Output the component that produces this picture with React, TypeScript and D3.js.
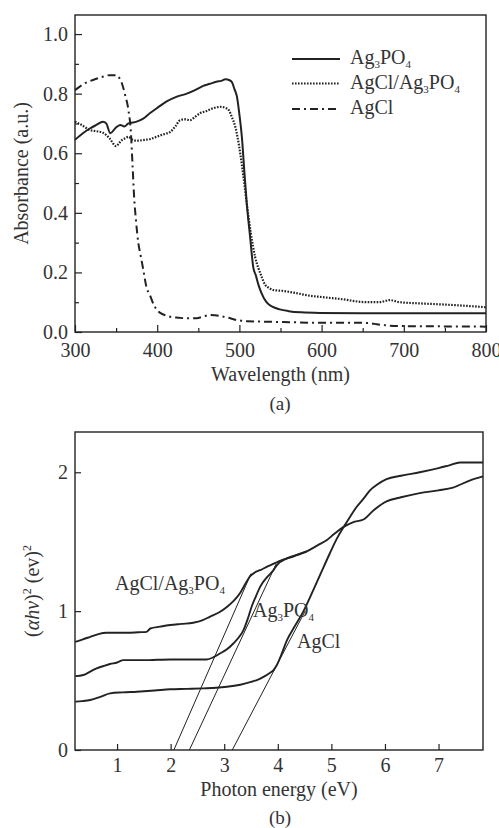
import React, { useEffect, useRef } from "react";
import * as d3 from "d3";

// ---- (a) UV-vis absorbance, [wavelength nm, absorbance]
const ag3po4Abs: [number, number][] = [
  [300, 0.645], [310, 0.668], [318, 0.683], [326, 0.695], [334, 0.706], [338, 0.7],
  [343, 0.667], [349, 0.684], [355, 0.695], [360, 0.69], [365, 0.7], [375, 0.706],
  [383, 0.716], [391, 0.734], [401, 0.754], [411, 0.773], [424, 0.79], [436, 0.8],
  [446, 0.812], [456, 0.826], [464, 0.833], [472, 0.84], [478, 0.843], [483, 0.848],
  [488, 0.845], [491, 0.838], [494, 0.815], [497, 0.79], [500, 0.73], [503, 0.655],
  [506, 0.54], [509, 0.43], [513, 0.32], [517, 0.215], [520, 0.19], [523, 0.16],
  [527, 0.13], [533, 0.1], [540, 0.085], [549, 0.076], [560, 0.07], [575, 0.066],
  [598, 0.064], [650, 0.063], [700, 0.063], [750, 0.063], [800, 0.063],
];
const compositeAbs: [number, number][] = [
  [300, 0.706], [308, 0.695], [318, 0.678], [326, 0.674], [334, 0.669], [342, 0.65],
  [350, 0.624], [354, 0.635], [357, 0.644], [361, 0.65], [365, 0.655], [370, 0.645],
  [375, 0.642], [385, 0.645], [392, 0.648], [399, 0.655], [408, 0.664], [416, 0.672],
  [422, 0.69], [428, 0.711], [434, 0.714], [440, 0.711], [446, 0.722], [452, 0.734],
  [460, 0.742], [468, 0.751], [474, 0.755], [478, 0.756], [483, 0.752], [487, 0.745],
  [491, 0.72], [495, 0.689], [498, 0.65], [501, 0.6], [505, 0.52], [509, 0.43],
  [514, 0.33], [519, 0.253], [523, 0.215], [527, 0.186], [531, 0.16], [536, 0.148],
  [541, 0.141], [553, 0.138], [570, 0.13], [585, 0.122], [598, 0.118], [625, 0.11],
  [655, 0.1], [670, 0.1], [683, 0.107], [695, 0.1], [720, 0.096], [750, 0.092],
  [775, 0.088], [800, 0.083],
];
const agclAbs: [number, number][] = [
  [300, 0.812], [305, 0.822], [312, 0.835], [322, 0.846], [332, 0.855], [342, 0.862],
  [350, 0.862], [354, 0.852], [357, 0.835], [361, 0.795], [365, 0.745], [368, 0.67],
  [370, 0.56], [372, 0.45], [374, 0.38], [377, 0.3], [380, 0.255], [383, 0.21],
  [387, 0.15], [391, 0.125], [396, 0.09], [401, 0.07], [408, 0.058], [416, 0.051],
  [426, 0.048], [436, 0.046], [448, 0.046], [456, 0.052], [464, 0.057], [470, 0.056],
  [476, 0.054], [486, 0.048], [497, 0.04], [510, 0.036], [525, 0.035], [560, 0.033],
  [598, 0.031], [630, 0.031], [647, 0.031], [660, 0.029], [667, 0.026], [680, 0.022],
  [695, 0.02], [740, 0.019], [800, 0.018],
];
const wlTicks = [300, 400, 500, 600, 700, 800];
const absTicks = [0, 0.2, 0.4, 0.6, 0.8, 1.0];

// ---- (b) Tauc plot, [photon energy eV, (ahv)^2]
const compositeTauc: [number, number][] = [
  [0.22, 0.779], [0.35, 0.795], [0.5, 0.815], [0.65, 0.835], [0.81, 0.844], [1.0, 0.844],
  [1.18, 0.844], [1.4, 0.848], [1.55, 0.851], [1.62, 0.875], [1.8, 0.888], [1.99, 0.9],
  [2.2, 0.908], [2.42, 0.916], [2.6, 0.935], [2.73, 0.959], [2.9, 0.99], [3.05, 1.03],
  [3.18, 1.075], [3.29, 1.127], [3.4, 1.2], [3.48, 1.25], [3.57, 1.278], [3.67, 1.295],
  [3.8, 1.32], [3.98, 1.352], [4.1, 1.37], [4.3, 1.395], [4.54, 1.43], [4.75, 1.475],
  [4.91, 1.51], [5.05, 1.555], [5.22, 1.605], [5.4, 1.64], [5.6, 1.66], [5.8, 1.73],
  [6.03, 1.79], [6.3, 1.82], [6.65, 1.85], [7.0, 1.87], [7.27, 1.89], [7.58, 1.94],
  [7.83, 1.97],
];
const ag3po4Tauc: [number, number][] = [
  [0.22, 0.532], [0.37, 0.54], [0.5, 0.565], [0.62, 0.588], [0.75, 0.605], [0.87, 0.619],
  [1.0, 0.63], [1.12, 0.647], [1.3, 0.647], [1.55, 0.647], [1.75, 0.65], [1.99, 0.652],
  [2.3, 0.652], [2.67, 0.652], [2.8, 0.668], [2.92, 0.695], [3.05, 0.725], [3.17, 0.767],
  [3.27, 0.81], [3.36, 0.863], [3.44, 0.945], [3.51, 1.03], [3.59, 1.105], [3.67, 1.175],
  [3.8, 1.245], [3.92, 1.295], [3.98, 1.33], [4.17, 1.38], [4.35, 1.405], [4.54, 1.43],
];
const agclTauc: [number, number][] = [
  [0.22, 0.348], [0.35, 0.352], [0.5, 0.36], [0.7, 0.385], [0.87, 0.408], [1.1, 0.415],
  [1.37, 0.42], [1.7, 0.428], [1.99, 0.437], [2.3, 0.44], [2.61, 0.444], [2.85, 0.448],
  [3.05, 0.455], [3.3, 0.47], [3.5, 0.49], [3.61, 0.504], [3.75, 0.53], [3.85, 0.555],
  [3.92, 0.576], [3.98, 0.61], [4.08, 0.7], [4.17, 0.79], [4.3, 0.88], [4.48, 1.0],
  [4.66, 1.15], [4.8, 1.27], [4.97, 1.415], [5.1, 1.52], [5.22, 1.6], [5.35, 1.68],
  [5.47, 1.75], [5.6, 1.81], [5.72, 1.87], [5.85, 1.91], [6.03, 1.95], [6.3, 1.975],
  [6.65, 2.0], [7.0, 2.03], [7.2, 2.05], [7.4, 2.07], [7.83, 2.07],
];
// band gap extrapolations
const tangents: [number, number][][] = [
  [[2.06, 0], [3.5, 1.27]],
  [[2.35, 0], [3.97, 1.34]],
  [[3.15, 0], [4.51, 1.0]],
];
const energyTicks = [1, 2, 3, 4, 5, 6, 7];
const taucTicks = [0, 1, 2];

// chemical names: [text, subscript?]
const nameAg3PO4: [string, boolean][] = [["Ag", false], ["3", true], ["PO", false], ["4", true]];
const nameComposite: [string, boolean][] = [["AgCl/Ag", false], ["3", true], ["PO", false], ["4", true]];
const nameAgCl: [string, boolean][] = [["AgCl", false]];

const FONT = "'Liberation Serif', Tinos, 'Times New Roman', Times, 'DejaVu Serif', serif";
const INK = "#222";
const TEXT = "#333";

function formula(sel: any, parts: [string, boolean][]) {
  let sub = false;
  parts.forEach(([t, s]) => {
    const dy = s === sub ? 0 : s ? 4 : -4;
    sub = s;
    sel.append("tspan").attr("dy", dy).attr("font-size", s ? 11 : null).text(t);
  });
}

function styleAxis(ax: any, size: number) {
  ax.select(".domain").remove();
  ax.selectAll("line").attr("stroke", INK).attr("stroke-width", 1.2);
  ax.selectAll("text").attr("fill", TEXT).style("font-family", FONT).style("font-size", size + "px");
  ax.attr("font-family", null).attr("font-size", null);
}

function App() {
  const svgRef = useRef<SVGSVGElement>(null);

  useEffect(() => {
    const svg = d3.select(svgRef.current);
    svg.selectAll("*").remove();

    // ================= (a) =================
    const ga = svg.append("g");
    const xa = d3.scaleLinear().domain([300, 800]).range([75, 486]);
    const ya = d3.scaleLinear().domain([0, 1.064]).range([332, 15]);

    const xaAxis = ga.append("g").attr("transform", `translate(0,${ya(0)})`)
      .call(d3.axisBottom(xa).tickValues(wlTicks).tickSizeInner(-7).tickSizeOuter(0).tickPadding(11).tickFormat(d3.format("d")));
    styleAxis(xaAxis, 20);
    const xaMinor = ga.append("g").attr("transform", `translate(0,${ya(0)})`)
      .call(d3.axisBottom(xa).tickValues(d3.range(350, 800, 100)).tickSizeInner(-4).tickSizeOuter(0).tickFormat(() => ""));
    styleAxis(xaMinor, 20);

    const yaAxis = ga.append("g").attr("transform", `translate(${xa(300)},0)`)
      .call(d3.axisLeft(ya).tickValues(absTicks).tickSizeInner(-7).tickSizeOuter(0).tickPadding(7).tickFormat(d3.format(".1f")));
    styleAxis(yaAxis, 20);
    const yaMinor = ga.append("g").attr("transform", `translate(${xa(300)},0)`)
      .call(d3.axisLeft(ya).tickValues(d3.range(0.1, 1.0, 0.2)).tickSizeInner(-4).tickSizeOuter(0).tickFormat(() => ""));
    styleAxis(yaMinor, 20);

    ga.append("rect")
      .attr("x", xa(300)).attr("y", ya.range()[1])
      .attr("width", xa(800) - xa(300)).attr("height", ya.range()[0] - ya.range()[1])
      .attr("fill", "none").attr("stroke", INK).attr("stroke-width", 1.4);

    const lineA = d3.line<[number, number]>().x((d) => xa(d[0])).y((d) => ya(d[1])).curve(d3.curveMonotoneX);
    const seriesA = [
      { data: ag3po4Abs, dash: null, w: 2, name: nameAg3PO4 },
      { data: compositeAbs, dash: "1.6,1.4", w: 2.2, name: nameComposite },
      { data: agclAbs, dash: "8,4,2,4", w: 2, name: nameAgCl },
    ];
    ga.selectAll(".curve").data(seriesA).join("path")
      .attr("class", "curve")
      .attr("d", (s) => lineA(s.data))
      .attr("fill", "none").attr("stroke", INK)
      .attr("stroke-width", (s) => s.w)
      .attr("stroke-dasharray", (s) => s.dash);

    // legend
    const legendY = [59, 83.5, 109];
    const leg = ga.selectAll(".leg").data(seriesA).join("g").attr("class", "leg")
      .attr("transform", (_, i) => `translate(292,${legendY[i]})`);
    leg.append("line").attr("x1", 0).attr("x2", 48)
      .attr("stroke", INK).attr("stroke-width", (s) => s.w)
      .attr("stroke-dasharray", (s) => s.dash);
    leg.append("text").attr("x", 58).attr("y", 5)
      .style("font-family", FONT).style("font-size", "20px").attr("fill", TEXT)
      .each(function (s) { formula(d3.select(this), s.name); });

    const label = (g: any, x: number, y: number, t: string, size = 20) =>
      g.append("text").attr("x", x).attr("y", y).attr("text-anchor", "middle")
        .style("font-family", FONT).style("font-size", size + "px").attr("fill", TEXT).text(t);

    label(ga, (xa(300) + xa(800)) / 2, 381, "Wavelength (nm)");
    label(ga, 0, 0, "Absorbance (a.u.)")
      .attr("transform", `translate(28,${(ya(0) + ya(1.064)) / 2}) rotate(-90)`);
    label(ga, 280, 410, "(a)", 19);

    // ================= (b) =================
    const gb = svg.append("g");
    const xb = d3.scaleLinear().domain([0.215, 7.83]).range([75, 483]);
    const yb = d3.scaleLinear().domain([0, 2.29]).range([750, 432]);

    const xbAxis = gb.append("g").attr("transform", `translate(0,${yb(0)})`)
      .call(d3.axisBottom(xb).tickValues(energyTicks).tickSizeInner(-6).tickSizeOuter(0).tickPadding(8).tickFormat(d3.format("d")));
    styleAxis(xbAxis, 20);
    const ybAxis = gb.append("g").attr("transform", `translate(${xb.range()[0]},0)`)
      .call(d3.axisLeft(yb).tickValues(taucTicks).tickSizeInner(-6).tickSizeOuter(0).tickPadding(7).tickFormat(d3.format("d")));
    styleAxis(ybAxis, 20);

    gb.append("rect")
      .attr("x", xb.range()[0]).attr("y", yb.range()[1])
      .attr("width", xb.range()[1] - xb.range()[0]).attr("height", yb.range()[0] - yb.range()[1])
      .attr("fill", "none").attr("stroke", INK).attr("stroke-width", 1.4);

    const lineB = d3.line<[number, number]>().x((d) => xb(d[0])).y((d) => yb(d[1])).curve(d3.curveMonotoneX);
    gb.selectAll(".tauc").data([compositeTauc, ag3po4Tauc, agclTauc]).join("path")
      .attr("class", "tauc")
      .attr("d", (d) => lineB(d))
      .attr("fill", "none").attr("stroke", INK).attr("stroke-width", 1.9);
    gb.selectAll(".tangent").data(tangents).join("path")
      .attr("class", "tangent")
      .attr("d", (d) => d3.line<[number, number]>().x((p) => xb(p[0])).y((p) => yb(p[1]))(d))
      .attr("fill", "none").attr("stroke", INK).attr("stroke-width", 1);

    const labelsB = [
      { name: nameComposite, x: 115, y: 590 },
      { name: nameAg3PO4, x: 253, y: 617 },
      { name: nameAgCl, x: 297, y: 648 },
    ];
    gb.selectAll(".lab").data(labelsB).join("text").attr("class", "lab")
      .attr("x", (d) => d.x).attr("y", (d) => d.y)
      .style("font-family", FONT).style("font-size", "20px").attr("fill", TEXT)
      .each(function (d) { formula(d3.select(this), d.name); });

    label(gb, (xb.range()[0] + xb.range()[1]) / 2, 796, "Photon energy (eV)");
    const yl = gb.append("text")
      .attr("transform", `translate(39,${(yb.range()[0] + yb.range()[1]) / 2}) rotate(-90)`)
      .attr("text-anchor", "middle")
      .style("font-family", FONT).style("font-size", "20px").attr("fill", TEXT);
    yl.append("tspan").text("(");
    yl.append("tspan").attr("font-style", "italic").text("αhν");
    yl.append("tspan").text(")");
    yl.append("tspan").attr("font-size", 12).attr("dy", -8).text("2");
    yl.append("tspan").attr("dy", 8).text(" (ev)");
    yl.append("tspan").attr("font-size", 12).attr("dy", -8).text("2");
    label(gb, 280, 824, "(b)", 19);
  }, []);

  return (
    <svg
      ref={svgRef}
      width={499}
      height={828}
      style={{ position: "absolute", left: 0, top: 0, background: "#fff" }}
    />
  );
}

export default App;
